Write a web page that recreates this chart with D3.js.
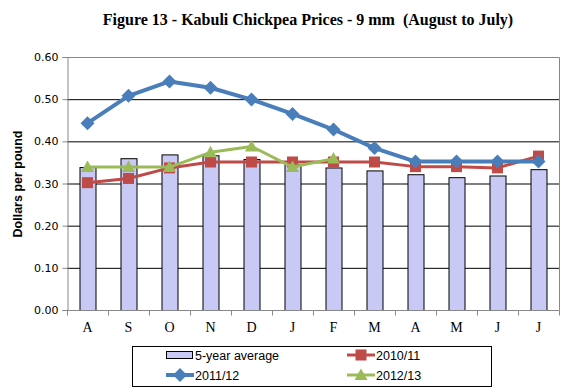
<!DOCTYPE html>
<html><head><meta charset="utf-8">
<script src="https://cdn.jsdelivr.net/npm/d3@7"></script>
<style>body{margin:0;background:#fff}svg{display:block}</style>
</head><body>
<svg id="c" width="576" height="392"></svg>
<script>
const months = ["A","S","O","N","D","J","F","M","A","M","J","J"];
const avg5 = [0.339,0.360,0.369,0.367,0.358,0.346,0.338,0.331,0.322,0.315,0.319,0.334];
const s1011 = [0.302,0.312,0.337,0.351,0.351,0.351,0.351,0.351,0.340,0.340,0.337,0.365];
const s1112 = [0.443,0.508,0.542,0.527,0.499,0.465,0.428,0.384,0.352,0.352,0.352,0.352];
const s1213 = [0.339,0.339,0.339,0.374,0.388,0.339,0.359];
const yTicks = [0,0.1,0.2,0.3,0.4,0.5,0.6];

const svg = d3.select("#c");
const L=67,R=559,T=57,B=310;
const idx = months.map((d,i)=>i);
const x = d3.scaleBand().domain(idx).range([L,R]);
const y = d3.scaleLinear().domain([0,0.6]).range([B,T]);

svg.append("text").attr("x",308).attr("y",25).attr("text-anchor","middle")
 .style("white-space","pre")
 .attr("font-family","Liberation Serif").attr("font-weight","bold").attr("font-size",16)
 .text("Figure 13 - Kabuli Chickpea Prices - 9 mm  (August to July)");

// grid
svg.append("g").selectAll("line").data(yTicks.filter(d=>d>0&&d<0.6)).join("line")
 .attr("x1",L).attr("x2",R).attr("y1",d=>y(d)+0.5).attr("y2",d=>y(d)+0.5).attr("stroke","#000").attr("stroke-width",1);
// plot border
svg.append("path").attr("d",`M${L},${T+0.5}H${R+0.5}V${B}`).attr("fill","none").attr("stroke","#888");

// bars
const bw = 16;
svg.append("g").selectAll("rect").data(avg5).join("rect")
 .attr("x",(d,i)=>x(i)+x.bandwidth()/2-bw/2+0.5).attr("width",bw)
 .attr("y",d=>y(d)+0.5).attr("height",d=>B-y(d))
 .attr("fill","#C8C9F5").attr("stroke","#000").attr("stroke-width",1);

// y axis
const ya = svg.append("g").attr("transform",`translate(${L+0.5},0)`)
 .call(d3.axisLeft(y).tickValues(yTicks).tickFormat(d3.format(".2f")).tickSize(5).tickPadding(4));
ya.select(".domain").attr("stroke","#888");
ya.selectAll(".tick line").attr("stroke","#888");
ya.selectAll("text").attr("font-family","DejaVu Sans").attr("font-size",11).attr("fill","#000");

// x axis
const xa = svg.append("g").attr("transform",`translate(0,${B+0.5})`);
xa.append("line").attr("x1",L).attr("x2",R+0.5).attr("stroke","#888");
xa.selectAll(".tk").data(d3.range(13)).join("line")
 .attr("x1",i=>(i<12?x(i):R)+0.5).attr("x2",i=>(i<12?x(i):R)+0.5).attr("y1",0).attr("y2",5).attr("stroke","#888");
xa.selectAll("text").data(months).join("text")
 .attr("x",(d,i)=>x(i)+x.bandwidth()/2).attr("y",21).attr("text-anchor","middle")
 .attr("font-family","Liberation Serif").attr("font-size",14).text(d=>d);

svg.append("text").attr("transform","translate(22,184) rotate(-90)").attr("text-anchor","middle")
 .attr("font-family","Liberation Sans").attr("font-weight","bold").attr("font-size",12.5).text("Dollars per pound");

const cx = i=>x(i)+x.bandwidth()/2;
const line = d3.line().x((d,i)=>cx(i)).y(d=>y(d));
function series(data,color,w,marker){
  svg.append("path").attr("d",line(data)).attr("fill","none").attr("stroke",color).attr("stroke-width",w).attr("stroke-linejoin","round");
  const g = svg.append("g");
  data.forEach((d,i)=>marker(g,cx(i),y(d),color));
}
const diamond=(g,px,py,c)=>g.append("path").attr("d",`M${px},${py-7}L${px+7},${py}L${px},${py+7}L${px-7},${py}Z`).attr("fill",c);
const square=(g,px,py,c)=>g.append("rect").attr("x",px-5.5).attr("y",py-5.5).attr("width",11).attr("height",11).attr("fill",c);
const tri=(g,px,py,c)=>g.append("path").attr("d",`M${px},${py-6.5}L${px+6.5},${py+5}L${px-6.5},${py+5}Z`).attr("fill",c);

series(s1011,"#BE4B48",3,square);
series(s1213,"#9BBB59",3,tri);
series(s1112,"#4A7EBB",4,diamond);

// legend
const lg = svg.append("g");
lg.append("rect").attr("x",132.5).attr("y",346.5).attr("width",359).attr("height",40).attr("fill","#fff").attr("stroke","#000");
const lf = {"font-family":"Liberation Sans","font-size":12.5};
function ltext(px,py,t){const e=lg.append("text").attr("x",px).attr("y",py).text(t);for(const k in lf)e.attr(k,lf[k]);}
lg.append("rect").attr("x",166.5).attr("y",351.5).attr("width",26).attr("height",7).attr("fill","#C8C9F5").attr("stroke","#000");
ltext(195,360,"5-year average");
function lline(px,py,c,w,m){lg.append("line").attr("x1",px).attr("x2",px+28).attr("y1",py).attr("y2",py).attr("stroke",c).attr("stroke-width",w);m(lg,px+14,py,c);}
lline(347,355,"#BE4B48",3,square);
ltext(376,360,"2010/11");
lline(166,375,"#4A7EBB",4,diamond);
ltext(195,380,"2011/12");
lline(347,375,"#9BBB59",3,tri);
ltext(376,380,"2012/13");
</script>
</body></html>
